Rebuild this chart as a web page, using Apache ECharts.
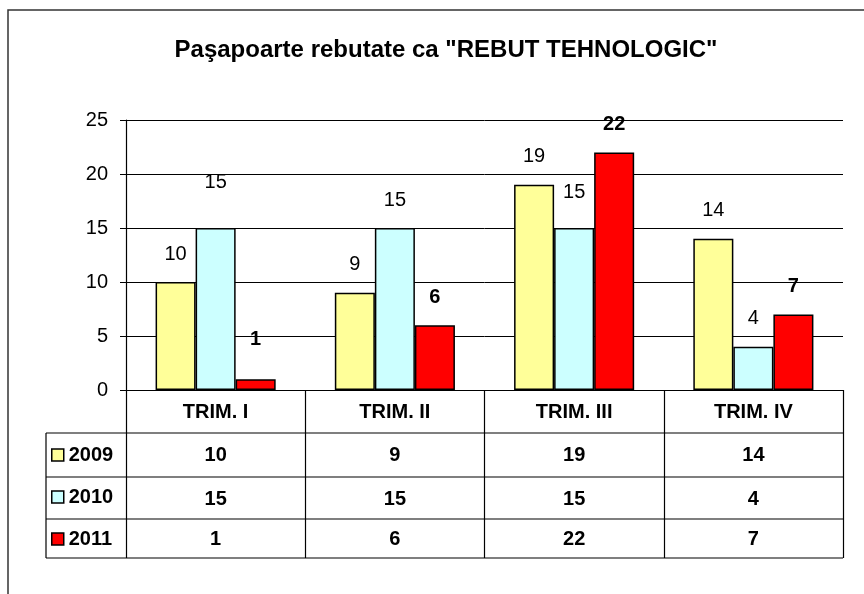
<!DOCTYPE html>
<html>
<head>
<meta charset="utf-8">
<script src="https://cdn.jsdelivr.net/npm/echarts@6/dist/echarts.min.js"></script>
<style>
    html, body {margin: 0; padding: 0; background: #fff;}
    #main {width: 864px; height: 594px;}
</style>
</head>
<body>
<div id="main"></div>
<script>
    // date grafic
    var categories = ['TRIM. I', 'TRIM. II', 'TRIM. III', 'TRIM. IV'];
    var years = ['2009', '2010', '2011'];
    var values2009 = [10, 9, 19, 14];
    var values2010 = [15, 15, 15, 4];
    var values2011 = [1, 6, 22, 7];
    var yTicks = [0, 5, 10, 15, 20, 25];

    // ridicare suplimentara a etichetelor (px)
    var lift2010 = [18, 0, 8, 0];
    var lift2011 = [12, 0, 0, 0];

    var font = '"Liberation Sans", Arial, sans-serif';
    var colors = ['#FFFF99', '#CCFFFF', '#FF0000'];

    function items(vals, lift) {
        return vals.map(function (v, i) {
            var it = {value: v};
            if (lift && lift[i]) it.label = {offset: [0, -lift[i]]};
            return it;
        });
    }

    function rowAxis(vals, off, margin) {
        return {
            type: 'category',
            gridIndex: 0,
            position: 'bottom',
            offset: off,
            data: categories,
            axisLine: {show: false},
            axisTick: {show: false},
            splitLine: {show: false},
            axisLabel: {
                margin: margin,
                color: '#000',
                fontFamily: font,
                fontSize: 20,
                fontWeight: 'bold',
                formatter: function (v, i) { return String(vals[i]); }
            }
        };
    }

    var chart = echarts.init(document.getElementById('main'));
    var option = {
        backgroundColor: '#fff',
        animation: false,
        color: colors,
        title: {
            text: 'Paşapoarte rebutate ca "REBUT TEHNOLOGIC"',
            left: 441,
            textAlign: 'center',
            top: 33,
            textStyle: {fontFamily: font, fontSize: 24, fontWeight: 'bold', color: '#000'}
        },
        legend: {
            orient: 'vertical',
            left: 51,
            top: 445,
            padding: 0,
            itemWidth: 12,
            itemHeight: 12,
            itemGap: 22,
            icon: 'rect',
            data: years,
            itemStyle: {borderColor: '#000', borderWidth: 1.5},
            textStyle: {fontFamily: font, fontSize: 20, fontWeight: 'bold', color: '#000', lineHeight: 20}
        },
        grid: {left: 126, right: 21, top: 120, bottom: 204},
        xAxis: [
            {
                type: 'category',
                data: categories,
                axisLine: {lineStyle: {color: '#000', width: 1.2}},
                axisTick: {show: true, length: 168, lineStyle: {color: '#000', width: 1.2}},
                axisLabel: {
                    margin: 12,
                    color: '#000',
                    fontFamily: font,
                    fontSize: 20,
                    fontWeight: 'bold'
                }
            },
            rowAxis(values2009, 43, 12),
            rowAxis(values2010, 87, 12),
            rowAxis(values2011, 129, 10)
        ],
        yAxis: {
            type: 'value',
            min: yTicks[0],
            max: yTicks[yTicks.length - 1],
            interval: 5,
            axisLine: {show: true, lineStyle: {color: '#000', width: 1.2}},
            axisTick: {show: true, length: 6, lineStyle: {color: '#000'}},
            splitLine: {lineStyle: {color: '#000', width: 1}},
            axisLabel: {margin: 18, color: '#000', fontFamily: font, fontSize: 20}
        },
        series: [
            {
                name: years[0],
                type: 'bar',
                barGap: '0%',
                barCategoryGap: '33%',
                data: items(values2009),
                itemStyle: {borderColor: '#000', borderWidth: 1.5},
                label: {show: true, position: 'top', distance: 18, color: '#000', fontFamily: font, fontSize: 20}
            },
            {
                name: years[1],
                type: 'bar',
                barGap: '0%',
                barCategoryGap: '33%',
                data: items(values2010, lift2010),
                itemStyle: {borderColor: '#000', borderWidth: 1.5},
                label: {show: true, position: 'top', distance: 18, color: '#000', fontFamily: font, fontSize: 20}
            },
            {
                name: years[2],
                type: 'bar',
                barGap: '0%',
                barCategoryGap: '33%',
                data: items(values2011, lift2011),
                itemStyle: {borderColor: '#000', borderWidth: 1.5},
                label: {show: true, position: 'top', distance: 18, color: '#000', fontFamily: font, fontSize: 20, fontWeight: 'bold'}
            }
        ],
        // chenar exterior si liniile tabelului
        graphic: [
            {type: 'rect', shape: {x: 8, y: 10, width: 900, height: 700}, style: {fill: null, stroke: '#333', lineWidth: 1.5}, silent: true},
            {type: 'line', shape: {x1: 46, y1: 433, x2: 843, y2: 433}, style: {stroke: '#000', lineWidth: 1.2}},
            {type: 'line', shape: {x1: 46, y1: 477, x2: 843, y2: 477}, style: {stroke: '#000', lineWidth: 1.2}},
            {type: 'line', shape: {x1: 46, y1: 519, x2: 843, y2: 519}, style: {stroke: '#000', lineWidth: 1.2}},
            {type: 'line', shape: {x1: 46, y1: 558, x2: 843, y2: 558}, style: {stroke: '#000', lineWidth: 1.2}},
            {type: 'line', shape: {x1: 46, y1: 433, x2: 46, y2: 558}, style: {stroke: '#000', lineWidth: 1.2}}
        ]
    };
    chart.setOption(option);
</script>
</body>
</html>
